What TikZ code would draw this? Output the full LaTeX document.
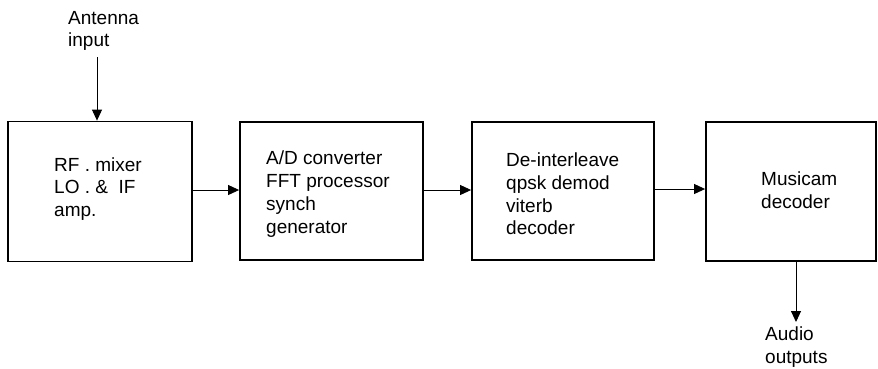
\documentclass[tikz,border=0pt]{standalone}
\usepackage{fontspec}
\setmainfont{Liberation Sans}
\usetikzlibrary{arrows.meta}
\begin{document}
\begin{tikzpicture}[x=1pt,y=-1pt,
  blk/.style={draw,line width=1.8pt,inner sep=0pt},
  lbl/.style={font=\fontsize{19}{22.8}\selectfont,align=left,inner sep=0pt,anchor=west},
  arr/.style={line width=0.9pt,-{Triangle[length=11pt,width=10pt]}}]
\useasboundingbox (0,0) rectangle (878,368);
\node[blk,minimum width=184pt,minimum height=140pt] (b1) at (100,191.5) {};
\node[blk,minimum width=183pt,minimum height=138pt] (b2) at (331.5,191) {};
\node[blk,minimum width=182pt,minimum height=138pt] (b3) at (563,191) {};
\node[blk,minimum width=170pt,minimum height=139pt] (b4) at (791,191.5) {};
\node[lbl] (t1) at (54,189) {RF . mixer\\LO . \&\ \ IF\\amp.};
\node[lbl] (t2) at (266,194) {A/D converter\\FFT processor\\synch\\generator};
\node[lbl] (t3) at (506,194) {De-interleave\\qpsk demod\\viterb\\decoder};
\node[lbl] (t4) at (761,190) {Musicam\\decoder};
\node[lbl] (ant) at (68,31) {Antenna\\input};
\node[lbl] (aud) at (765,347) {Audio\\outputs};
\coordinate (antin) at (97,57);
\coordinate (audout) at (796,322);
\draw[arr] (antin) -- (antin |- b1.north);
\draw[arr] (b1.east |- 0,190) -- (b2.west |- 0,190);
\draw[arr] (b2.east |- 0,190) -- (b3.west |- 0,190);
\draw[arr] (b3.east |- 0,189) -- (b4.west |- 0,189);
\draw[arr] (audout |- b4.south) -- (audout);
\end{tikzpicture}
\end{document}
